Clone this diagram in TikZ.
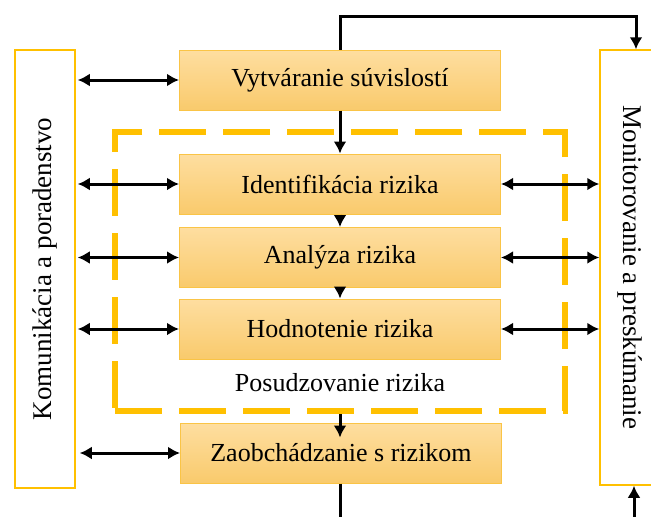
\documentclass[tikz,border=0pt]{standalone}
\usepackage{fontspec}
\setmainfont{Liberation Serif}
\usepackage{xcolor}
\usepackage{tikz}
\usetikzlibrary{arrows.meta}
\definecolor{boxtop}{RGB}{254,222,160}
\definecolor{boxbot}{RGB}{249,202,108}
\definecolor{boxline}{RGB}{250,196,70}
\definecolor{gold}{RGB}{255,192,0}

\begin{document}
\begin{tikzpicture}[x=1pt, y=-1pt,
    box/.style={shape=rectangle, draw=boxline, line width=1pt, top color=boxtop, bottom color=boxbot,
        minimum width=321pt, minimum height=60pt, font=\fontsize{26}{30}\selectfont},
    side/.style={shape=rectangle, draw=gold, line width=1.5pt, fill=white,
        minimum height=60pt, font=\fontsize{27}{31}\selectfont},
    group/.style={shape=rectangle, draw=gold, line width=5.5pt, dash pattern=on 47pt off 17pt,
        minimum width=450pt, minimum height=279pt},
    link/.style={line width=3pt, -{Latex[width=13pt,length=12pt]}},
    both/.style={line width=3pt, {Latex[width=13pt,length=12pt]}-{Latex[width=13pt,length=12pt]}}]
    \useasboundingbox (0,0) rectangle (651,517);

    \node[group] (7) at (340, 271.5) {};
    \node[font=\fontsize{26}{30}\selectfont] (8) at (340, 383) {Posudzovanie rizika};

    \node[side, rotate=90, minimum width=438pt] (0) at (45, 269) {Komunikácia a poradenstvo};
    \node[side, rotate=-90, minimum width=435pt] (6) at (630, 267.5) {Monitorovanie a preskúmanie};

    \node[box] (1) at (340, 80) {Vytváranie súvislostí};
    \node[box] (2) at (340, 184) {Identifikácia rizika};
    \node[box] (3) at (340, 257.5) {Analýza rizika};
    \node[box] (4) at (340, 329) {Hodnotenie rizika};
    \node[box] (5) at (341, 453) {Zaobchádzanie s rizikom};

    \coordinate (t) at (636, 16);
    \coordinate (b1) at (340, 517);
    \coordinate (b2) at (634, 517);

    \draw [link] (1) -- (2);
    \draw [link] (2) -- (3);
    \draw [link] (3) -- (4);
    \draw [link] (7.south) -- ([yshift=-15pt]7.south |- 5.north);
    \draw [line width=3pt] (5.south -| b1) -- (b1);
    \draw [link] (1.north) |- (t) -- (t |- 6.west);
    \draw [link] (b2) -- (b2 |- 6.east);

    \draw [both] ([xshift=2pt]0.south |- 1.west) -- (1.west);
    \draw [both] ([xshift=2pt]0.south |- 2.west) -- (2.west);
    \draw [both] ([xshift=2pt]0.south |- 3.west) -- (3.west);
    \draw [both] ([xshift=2pt]0.south |- 4.west) -- (4.west);
    \draw [both] ([xshift=4pt]0.south |- 5.west) -- (5.west);
    \draw [both] (2.east) -- (2.east -| 6.south);
    \draw [both] (3.east) -- (3.east -| 6.south);
    \draw [both] (4.east) -- (4.east -| 6.south);
\end{tikzpicture}
\end{document}
